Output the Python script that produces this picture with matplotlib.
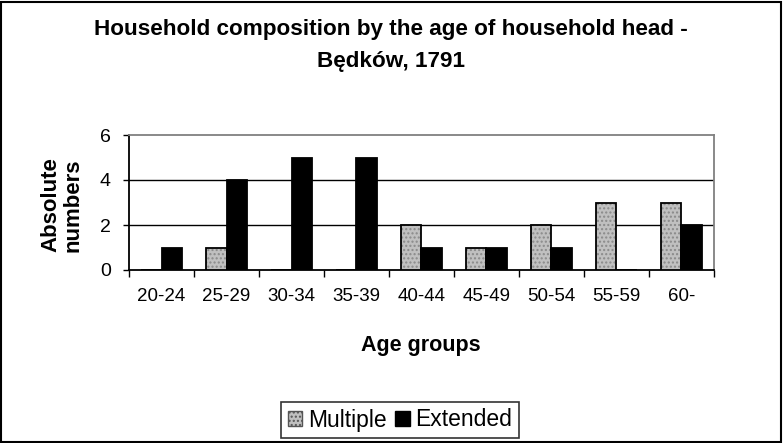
import matplotlib.pyplot as plt
import numpy as np
from matplotlib.patches import Patch, Rectangle

# values
age_groups = ["20-24", "25-29", "30-34", "35-39", "40-44", "45-49", "50-54", "55-59", "60-"]
multiple = [0, 1, 0, 0, 2, 1, 2, 3, 3]
extended = [1, 4, 5, 5, 1, 1, 1, 0, 2]
y_ticks = [0, 2, 4, 6]

W, H = 783, 443
plt.rcParams['font.family'] = ['Liberation Sans', 'DejaVu Sans']
plt.rcParams['hatch.linewidth'] = 1.0

fig = plt.figure(figsize=(W / 100, H / 100), dpi=100)
fig.patch.set_facecolor('white')

# plot area in pixel coords of the reference
left, right, top, bottom = 129, 714, 135, 270
ax = fig.add_axes([left / W, 1 - bottom / H, (right - left) / W, (bottom - top) / H])

x = np.arange(len(age_groups))
bw = 0.32
ax.bar(x - bw / 2, multiple, bw, color='#c0c0c0', hatch='....', edgecolor='#8a8a8a', linewidth=0, zorder=3)
ax.bar(x - bw / 2, multiple, bw, fill=False, edgecolor='black', linewidth=1.3, zorder=4)
ax.bar(x + bw / 2, extended, bw, color='black', edgecolor='black', linewidth=1.3, zorder=4)

ax.set_xlim(-0.5, len(age_groups) - 0.5)
ax.set_ylim(0, 6)
ax.set_yticks(y_ticks)
ax.set_yticklabels([str(v) for v in y_ticks], fontsize=14)
ax.set_xticks(x)
ax.set_xticklabels(age_groups, fontsize=13.5)
ax.set_xticks(np.arange(-0.5, len(age_groups)), minor=True)
ax.tick_params(axis='x', which='major', length=0, pad=13)
ax.tick_params(axis='x', which='minor', length=5, width=1, direction='out')
ax.tick_params(axis='y', length=4, width=1, direction='out', pad=9)

for v in y_ticks[1:-1]:
    ax.axhline(v, color='black', linewidth=1, zorder=1)

ax.spines['left'].set_color('black')
ax.spines['bottom'].set_color('black')
ax.spines['top'].set_color('#808080')
ax.spines['right'].set_color('#808080')
for s in ax.spines.values():
    s.set_linewidth(1.3)

# titles and labels
fig.text(391 / W, 1 - 30 / H, "Household composition by the age of household head -",
         ha='center', va='center', fontsize=16.2, fontweight='bold')
fig.text(391 / W, 1 - 62 / H, "Będków, 1791",
         ha='center', va='center', fontsize=16.2, fontweight='bold')
fig.text(62 / W, 1 - 205 / H, "Absolute\nnumbers", rotation=90, ha='center', va='center',
         fontsize=16, fontweight='bold', multialignment='center', linespacing=1.1)
fig.text(421 / W, 1 - 345 / H, "Age groups", ha='center', va='center',
         fontsize=15.5, fontweight='bold')

handles = [
    Patch(facecolor='#c0c0c0', hatch='....', edgecolor='#555555', label='Multiple'),
    Patch(facecolor='black', edgecolor='black', label='Extended'),
]
leg = fig.legend(handles=handles, loc='center', bbox_to_anchor=(400 / W, 1 - 420 / H),
                 ncol=2, fontsize=16.5, frameon=True, fancybox=False, borderpad=0.3,
                 handlelength=0.62, handleheight=0.62, handletextpad=0.25, columnspacing=0.4)
leg.get_frame().set_edgecolor('black')
leg.get_frame().set_linewidth(1.2)

# chart area border
fig.add_artist(Rectangle((1 / W, 1 / H), (W - 3) / W, (H - 3) / H, transform=fig.transFigure,
                         fill=False, edgecolor='black', linewidth=1.5))

fig.savefig('out.png', dpi=100)
